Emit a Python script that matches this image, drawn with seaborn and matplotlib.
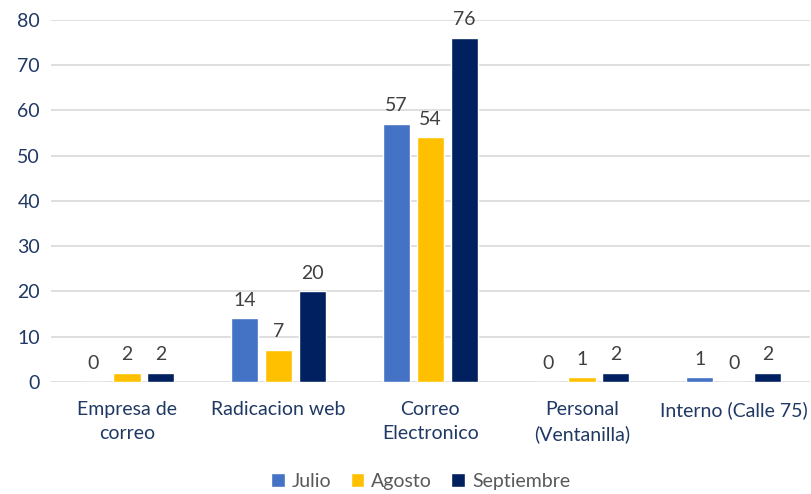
import matplotlib
matplotlib.use("Agg")
import matplotlib.pyplot as plt
import seaborn as sns
import pandas as pd

categories = ["Empresa de\ncorreo", "Radicacion web", "Correo\nElectronico",
              "Personal\n(Ventanilla)", "Interno (Calle 75)"]
julio = [0, 14, 57, 0, 1]
agosto = [2, 7, 54, 1, 0]
septiembre = [2, 20, 76, 2, 2]
series_names = ["Julio", "Agosto", "Septiembre"]
colors = ["#4472C4", "#FFC000", "#002060"]

df = pd.DataFrame({
    "categoria": categories * 3,
    "mes": [n for n in series_names for _ in categories],
    "valor": julio + agosto + septiembre,
})

sns.set_theme(style="white")
plt.rcParams["font.family"] = ["Lato", "DejaVu Sans"]

fig = plt.figure(figsize=(8.12, 4.94), dpi=100)
ax = fig.add_axes([0.063, 0.227, 0.934, 0.733])

sns.barplot(data=df, x="categoria", y="valor", hue="mes", palette=colors,
            order=categories, hue_order=series_names, width=0.67, gap=0.2,
            saturation=1, ax=ax, legend=True)

for cont in ax.containers:
    ax.bar_label(cont, fmt="%d", padding=7, fontsize=14, color="#404040")

ax.set_ylim(0, 80)
ax.set_xlim(-0.5, 4.5)
ax.set_yticks(range(0, 81, 10))
ax.yaxis.grid(True, color="#D9D9D9", linewidth=1.2)
ax.set_axisbelow(True)
for s in ax.spines.values():
    s.set_visible(False)
ax.set_xlabel("")
ax.set_ylabel("")
ax.tick_params(axis="both", length=0, labelsize=14, colors="#1F3864", pad=8)
ax.tick_params(axis="x", pad=14)
for lab in ax.get_xticklabels():
    lab.set_linespacing(1.45)

handles, labels = ax.get_legend_handles_labels()
ax.get_legend().remove()
leg = fig.legend(handles, labels, loc="center", bbox_to_anchor=(0.518, 0.026),
                 ncol=3, frameon=False, fontsize=14, handlelength=0.7,
                 handleheight=0.7, handletextpad=0.35, columnspacing=1.0,
                 borderpad=0.1)
for t in leg.get_texts():
    t.set_color("#595959")

fig.savefig("out.png", dpi=100)
